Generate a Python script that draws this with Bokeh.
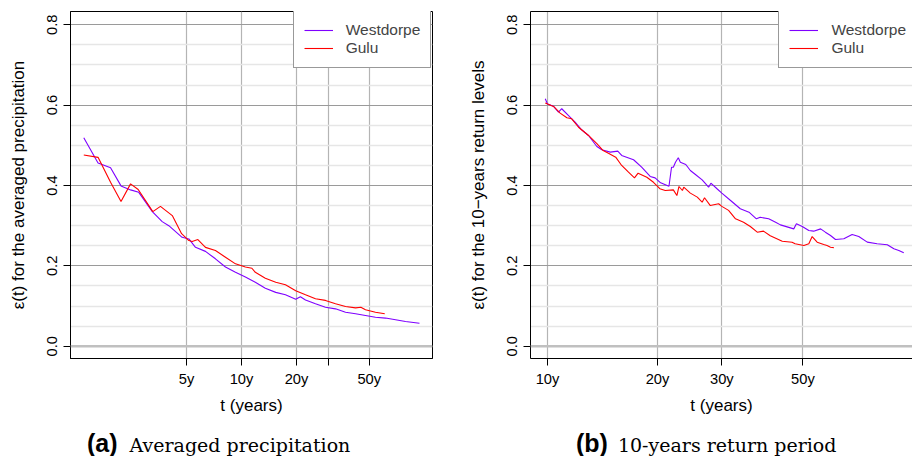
from bokeh.plotting import figure
from bokeh.models import (FixedTicker, Span, Legend, LegendItem, LinearAxis, Div,
                          Range1d, PrintfTickFormatter)
from bokeh.layouts import row, column
from bokeh.embed import file_html
from bokeh.resources import INLINE

# ---------------- data ----------------
# Panel (a): averaged precipitation, t in years
a_west_t = [1.37, 1.64, 1.92, 2.19, 2.47, 2.74, 3.25, 3.68, 4.0, 4.73, 5.15, 5.6, 6.35,
            7.2, 8.17, 9.27, 10.5, 11.9, 13.5, 15.4, 17.4, 19.8, 21.0, 22.4, 25.4, 28.8,
            32.7, 37.1, 42.1, 47.7, 54.1, 61.4, 69.7, 79.0, 94.2]
a_west_v = [0.519, 0.456, 0.444, 0.399, 0.389, 0.383, 0.335, 0.310, 0.300, 0.271, 0.267,
            0.246, 0.236, 0.2175, 0.197, 0.184, 0.172, 0.159, 0.144, 0.134, 0.128, 0.117,
            0.123, 0.115, 0.1055, 0.097, 0.093, 0.0846, 0.0806, 0.0764, 0.072, 0.070,
            0.066, 0.0615, 0.057]
a_gulu_t = [1.37, 1.64, 1.92, 2.19, 2.47, 2.72, 3.27, 3.60, 4.18, 4.70, 5.15, 5.37, 5.77,
            6.35, 7.2, 8.17, 9.27, 10.5, 11.4, 11.9, 13.5, 15.4, 17.4, 19.8, 22.4, 25.4,
            28.8, 32.7, 37.1, 42.1, 45.0, 47.7, 54.1, 60.8]
a_gulu_v = [0.476, 0.470, 0.408, 0.360, 0.404, 0.390, 0.335, 0.348, 0.325, 0.280, 0.263,
            0.2605, 0.2655, 0.246, 0.238, 0.2215, 0.205, 0.197, 0.194, 0.184, 0.169, 0.159,
            0.153, 0.138, 0.128, 0.118, 0.114, 0.1055, 0.099, 0.0955, 0.097, 0.0906,
            0.0846, 0.0806]

# Panel (b): 10-years return levels, t in years
b_west_t = [9.86, 10.0, 10.39, 10.72, 10.94, 11.42, 11.9, 12.4, 12.95, 13.65, 14.08, 14.85,
            15.57, 15.96, 17.2, 18.1, 19.1, 19.7, 20.4, 21.5, 21.85, 22.1, 22.4, 22.8, 23.1,
            23.9, 24.6, 25.4, 26.5, 27.6, 28.0, 29.1, 30.0, 31.7, 33.7, 35.6, 37.3, 38.2,
            40.3, 42.1, 43.4, 47.2, 48.0, 49.8, 51.9, 53.5, 55.9, 57.6, 59.5, 61.4, 64.7,
            68.2, 71.1, 75.0, 79.8, 85.1, 88.7, 91.5, 94.4]
b_west_v = [0.616, 0.603, 0.597, 0.5825, 0.591, 0.574, 0.5576, 0.5386, 0.5245, 0.497, 0.489,
            0.483, 0.4855, 0.4747, 0.464, 0.4455, 0.4224, 0.419, 0.4067, 0.398, 0.4455,
            0.4455, 0.458, 0.469, 0.458, 0.4523, 0.4373, 0.4274, 0.414, 0.3958, 0.4057,
            0.3918, 0.381, 0.3627, 0.342, 0.3335, 0.317, 0.321, 0.317, 0.3087, 0.302, 0.292,
            0.3047, 0.298, 0.288, 0.2863, 0.292, 0.2838, 0.2756, 0.2656, 0.2673, 0.278,
            0.273, 0.259, 0.2549, 0.2524, 0.2424, 0.2382, 0.2325]
b_gulu_t = [9.86, 10.39, 10.83, 11.3, 11.65, 12.16, 12.95, 13.65, 14.2, 14.68, 15.37, 15.96,
            16.66, 17.3, 17.7, 18.7, 19.5, 20.3, 21.0, 22.1, 22.6, 22.9, 23.4, 23.6, 24.6,
            25.7, 26.5, 26.9, 27.9, 29.4, 30.0, 31.3, 32.7, 34.4, 35.9, 37.5, 39.0, 40.7,
            43.9, 46.7, 47.6, 50.3, 51.9, 53.0, 54.7, 57.0, 58.2, 59.5, 60.8]
b_gulu_v = [0.605, 0.5966, 0.580, 0.5685, 0.566, 0.545, 0.5245, 0.504, 0.487, 0.480, 0.4705,
            0.4498, 0.433, 0.419, 0.4306, 0.4206, 0.408, 0.392, 0.3875, 0.389, 0.375, 0.3975,
            0.3875, 0.3958, 0.381, 0.371, 0.3585, 0.3694, 0.350, 0.3545, 0.348, 0.338, 0.317,
            0.3087, 0.298, 0.2838, 0.2863, 0.275, 0.2614, 0.2589, 0.2549, 0.2507, 0.2549,
            0.273, 0.2589, 0.2532, 0.2507, 0.2464, 0.245]

series_names = ["Westdorpe", "Gulu"]
y_major = [0.0, 0.2, 0.4, 0.6, 0.8]
y_minor = [0.05, 0.1, 0.15, 0.25, 0.3, 0.35, 0.45, 0.5, 0.55, 0.65, 0.7, 0.75]
a_xticks = [5, 10, 20, 30, 50]
a_xlabels = ["5y", "10y", "20y", "", "50y"]
b_xticks = [10, 20, 30, 50]
b_xlabels = ["10y", "20y", "30y", "50y"]

FONT = "Liberation Sans"
PURPLE = "#7F00FF"
RED = "#FF0000"


def make_panel(x_start, x_end, border_left, border_right, xticks, xlabels,
               west_t, west_v, gulu_t, gulu_v, ytitle, legend_xy, full_outline):
    p = figure(width=456, height=425, x_axis_type="log",
               x_range=Range1d(x_start, x_end), y_range=Range1d(-0.0306, 0.833),
               output_backend="svg", toolbar_location=None,
               min_border_left=border_left, min_border_right=border_right,
               min_border_top=11, min_border_bottom=67)
    p.background_fill_color = "white"
    p.border_fill_color = "white"
    if full_outline:
        p.outline_line_color = "black"
        p.outline_line_width = 1
    else:
        p.outline_line_color = None

    # x axis
    xa = p.xaxis[0]
    xa.ticker = FixedTicker(ticks=xticks, minor_ticks=[])
    xa.major_label_overrides = {t: l for t, l in zip(xticks, xlabels)}
    xa.axis_label = "t (years)"
    # y axis
    ya = p.yaxis[0]
    ya.ticker = FixedTicker(ticks=y_major, minor_ticks=y_minor)
    ya.formatter = PrintfTickFormatter(format="%.1f")
    ya.axis_label = ytitle
    ya.major_label_orientation = "vertical"
    for ax in (xa, ya):
        ax.axis_line_color = "black"
        ax.axis_line_width = 1
        ax.major_tick_line_color = "black"
        ax.major_tick_in = 0
        ax.major_tick_out = 7
        ax.minor_tick_line_color = None
        ax.major_label_text_font = FONT
        ax.major_label_text_font_size = "14.7px"
        ax.major_label_text_color = "black"
        ax.axis_label_text_font = FONT
        ax.axis_label_text_font_size = "17px"
        ax.axis_label_text_font_style = "normal"
        ax.axis_label_text_color = "black"
    xa.major_label_standoff = 5
    xa.axis_label_standoff = 6
    ya.major_label_standoff = 6
    ya.axis_label_standoff = 17

    # grids
    p.xgrid.grid_line_color = "#b4b4b4"
    p.xgrid.grid_line_width = 1.2
    p.ygrid.grid_line_color = "#9a9a9a"
    p.ygrid.grid_line_width = 1
    p.ygrid.minor_grid_line_color = "#e6e6e6"
    p.ygrid.minor_grid_line_width = 1.5
    p.add_layout(Span(location=0, dimension="width", line_color="#c0c0c0", line_width=2.5))

    r1 = p.line(west_t, west_v, line_color=PURPLE, line_width=1.1)
    r2 = p.line(gulu_t, gulu_v, line_color=RED, line_width=1.1)

    if not full_outline:
        top = LinearAxis(axis_line_color="black", ticker=FixedTicker(ticks=[], minor_ticks=[]),
                         major_tick_line_color=None, minor_tick_line_color=None,
                         major_label_standoff=0)
        p.add_layout(top, "above")

    leg = Legend(items=[LegendItem(label=series_names[0], renderers=[r1]),
                        LegendItem(label=series_names[1], renderers=[r2])],
                 location=legend_xy, margin=0, padding=10, spacing=0,
                 glyph_width=29, glyph_height=18, label_height=18, label_standoff=13,
                 label_text_font=FONT, label_text_font_size="15.5px",
                 border_line_color="#333333", border_line_width=1.5,
                 background_fill_color="white", background_fill_alpha=1)
    p.add_layout(leg)
    return p


pa = make_panel(1.1589, 111.0, 70, 24, a_xticks, a_xlabels,
                a_west_t, a_west_v, a_gulu_t, a_gulu_v,
                "ε(t) for the averaged precipitation", (222.7, 290.3), True)
pb = make_panel(8.985, 99.74, 74, 0, b_xticks, b_xlabels,
                b_west_t, b_west_v, b_gulu_t, b_gulu_v,
                "ε(t) for the 10−years return levels", (248.4, 290.3), False)


def caption(tag, text, left, gap):
    html = ('<div style="margin-left:%dpx;margin-top:4px;line-height:28px;'
            'white-space:nowrap;color:black">'
            '<span style="font-family:\'Liberation Sans\';font-weight:bold;font-size:25px">%s</span>'
            '<span style="font-family:\'DejaVu Serif\';font-size:19px;margin-left:%dpx">%s</span>'
            '</div>') % (left, tag, gap, text)
    return Div(text=html, width=456, height=31, margin=0)


cap_a = caption("(a)", "Averaged precipitation", 87, 12)
cap_b = caption("(b)", "10-years return period", 120, 10)

layout = column(row(pa, pb), row(cap_a, cap_b), spacing=0)
open("out.html", "w").write(file_html(layout, INLINE))
